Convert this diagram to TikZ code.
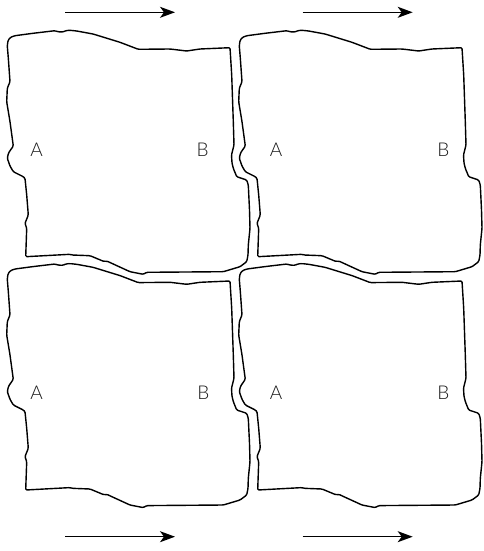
\documentclass[tikz,border=0pt]{standalone}
\usepackage{fontspec}
\setsansfont{Lato Light}
\usetikzlibrary{arrows.meta}
\newcommand{\tileshape}{%
(7.3,46) -- (8,40.5) -- (10.5,37.3) -- (15,35.7) -- (33,33.3) -- (55,30.7) -- (58,31.8) -- (63,32) -- (66,30.6) -- (70,30.3) -- (76.7,31) -- (93,34) -- (120,42.3) -- (138.3,49.3) -- (170,49) -- (186.7,51) -- (200,49) -- (230,47.7) -- (231.7,75) -- (233.3,121.7) -- (234,145) -- (231.5,155) -- (232,163) -- (233.3,168.3) -- (236.7,176.7) -- (246.7,180) -- (248.3,185) -- (249.5,210) -- (250,228.3) -- (248.3,245) -- (248,255) -- (246.7,261.7) -- (240,266.7) -- (223.3,271.7) -- (146.7,272.3) -- (143.3,274.3) -- (130,271.7) -- (106.7,261) -- (104,261.5) -- (90,255.7) -- (72,255) -- (70,254.3) -- (25.7,256.7) -- (26.7,228.3) -- (25,223.3) -- (28.3,215) -- (26.7,195) -- (25,178.3) -- (23.3,176.7) -- (13.3,171.7) -- (10,166) -- (7.3,158.3) -- (8.5,153) -- (13.3,146) -- (10,121.7) -- (6.7,101.7) -- (7.3,88.3) -- (10,81.7) -- (8.3,58) -- cycle}
\begin{document}
\begin{tikzpicture}[x=1pt,y=-1pt,
  tileline/.style={draw=black,line width=1.4pt,rounded corners=1.2pt,line join=round},
  lbl/.style={font=\sffamily\fontsize{19}{19}\selectfont,text=black!90,inner sep=0pt},
  flow/.style={line width=1.3pt,-{Stealth[length=15pt,width=11pt,inset=4pt]}}]
\useasboundingbox (0,0) rectangle (483,551);
% tiles
\path[tileline] \tileshape;
\begin{scope}[shift={(232,0)}]\path[tileline] \tileshape;\end{scope}
\begin{scope}[shift={(0,233.3)}]\path[tileline] \tileshape;\end{scope}
\begin{scope}[shift={(232,233.3)}]\path[tileline] \tileshape;\end{scope}
% labels
\node[lbl] (a1) at (36.7,149.3) {A};
\node[lbl] (b1) at (202.7,149.3) {B};
\node[lbl] (a2) at (276,150) {A};
\node[lbl] (b2) at (443.3,150) {B};
\node[lbl] (a3) at (36.7,392.7) {A};
\node[lbl] (b3) at (203.3,392.7) {B};
\node[lbl] (a4) at (276,392.7) {A};
\node[lbl] (b4) at (443.3,392.7) {B};
% arrows
\coordinate (t1s) at (65,12.3);
\coordinate (t1e) at (175,12.3);
\coordinate (t2s) at (302.7,12.3);
\coordinate (t2e) at (412.7,12.3);
\coordinate (u1s) at (65,536.7);
\coordinate (u1e) at (175,536.7);
\coordinate (u2s) at (302.7,536.7);
\coordinate (u2e) at (412.7,536.7);
\draw[flow] (t1s) -- (t1e);
\draw[flow] (t2s) -- (t2e);
\draw[flow] (u1s) -- (u1e);
\draw[flow] (u2s) -- (u2e);
\end{tikzpicture}
\end{document}
